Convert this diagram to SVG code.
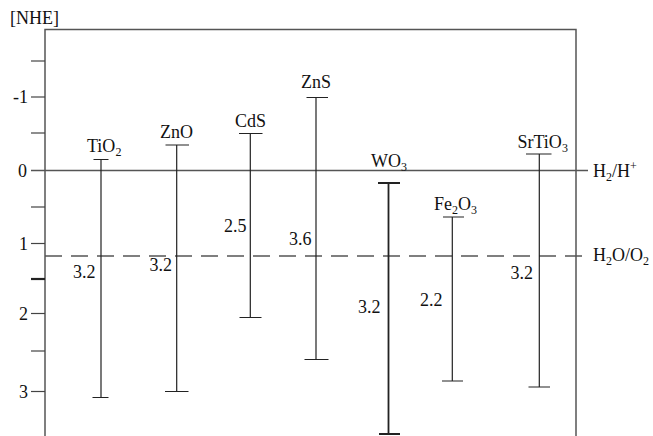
<svg xmlns="http://www.w3.org/2000/svg" width="653" height="436" viewBox="0 0 653 436">
<style>
text{font-family:"Liberation Serif","Times New Roman",serif;font-size:18px;fill:#111}
.sub{font-size:12px}
.ax{stroke:#555;stroke-width:1.5;fill:none}
.tk{stroke:#444;stroke-width:1.2}
.bar{stroke:#222;stroke-width:1.2;fill:none}
.ref{stroke:#555;stroke-width:1.5;fill:none}
</style>
<rect width="653" height="436" fill="#fff"/>
<g id="axes">
<text x="10" y="24">[NHE]</text>
<polyline class="ax" points="45,436 45,29.5 576,29.5 576,436"/>
<line class="tk" x1="31" y1="61" x2="45" y2="61"/>
<line class="tk" x1="31" y1="97" x2="45" y2="97"/>
<line class="tk" x1="31" y1="133" x2="45" y2="133"/>
<line class="tk" x1="31" y1="207" x2="45" y2="207"/>
<line class="tk" x1="31" y1="243.5" x2="45" y2="243.5"/>
<line class="tk" x1="31" y1="279" x2="45" y2="279" style="stroke-width:2.2;stroke:#222"/>
<line class="tk" x1="31" y1="313.5" x2="45" y2="313.5"/>
<line class="tk" x1="31" y1="351" x2="45" y2="351"/>
<line class="tk" x1="31" y1="391.5" x2="45" y2="391.5"/>
<g text-anchor="end">
<text x="28" y="103">-1</text>
<text x="27" y="177">0</text>
<text x="28" y="250">1</text>
<text x="28" y="320">2</text>
<text x="28" y="398">3</text>
</g>
</g>
<g id="connectors">
<line class="ref" x1="31" y1="170.5" x2="588" y2="170.5"/>
<line class="ref" x1="45" y1="256" x2="588" y2="256" stroke-dasharray="17 9"/>
<text x="593" y="177">H<tspan class="sub" dy="4">2</tspan><tspan dy="-4">/H</tspan><tspan class="sub" dy="-7">+</tspan></text>
<text x="593" y="261">H<tspan class="sub" dy="4">2</tspan><tspan dy="-4">O/O</tspan><tspan class="sub" dy="4">2</tspan></text>
</g>
<g id="TiO2">
<path class="bar" d="M101,159.5V397.5M93.5,159.5H108.5M92.5,397.5H108.5"/>
<text x="87" y="152">TiO<tspan class="sub" dy="4">2</tspan></text>
<text x="73" y="278">3.2</text>
</g>
<g id="ZnO">
<path class="bar" d="M176.7,145V391.5M165.5,145H189M165,391.5H188.5"/>
<text x="160" y="138">ZnO</text>
<text x="149.5" y="271">3.2</text>
</g>
<g id="CdS">
<path class="bar" d="M250.3,133.5V317.5M239,133.5H262.5M239.5,317.5H261.5"/>
<text x="235" y="127">CdS</text>
<text x="224" y="232">2.5</text>
</g>
<g id="ZnS">
<path class="bar" d="M316,97.5V359.5M306.5,97.5H328M304.5,359.5H328.5"/>
<text x="301" y="87.5">ZnS</text>
<text x="289" y="245">3.6</text>
</g>
<g id="WO3">
<path class="bar" style="stroke-width:1.8" d="M388.5,183V434M378,183H400M379,434H400"/>
<text x="371" y="167">WO<tspan class="sub" dy="4">3</tspan></text>
<text x="358" y="313">3.2</text>
</g>
<g id="Fe2O3">
<path class="bar" d="M452.3,217V381M443,217H464M442,381H463"/>
<text x="434" y="210">Fe<tspan class="sub" dy="4">2</tspan><tspan dy="-4">O</tspan><tspan class="sub" dy="4">3</tspan></text>
<text x="420" y="306">2.2</text>
</g>
<g id="SrTiO3">
<path class="bar" d="M539.3,154V387M526,154H551.5M528.5,387H550"/>
<text x="517.5" y="148">SrTiO<tspan class="sub" dy="4">3</tspan></text>
<text x="510.5" y="279">3.2</text>
</g>
</svg>
